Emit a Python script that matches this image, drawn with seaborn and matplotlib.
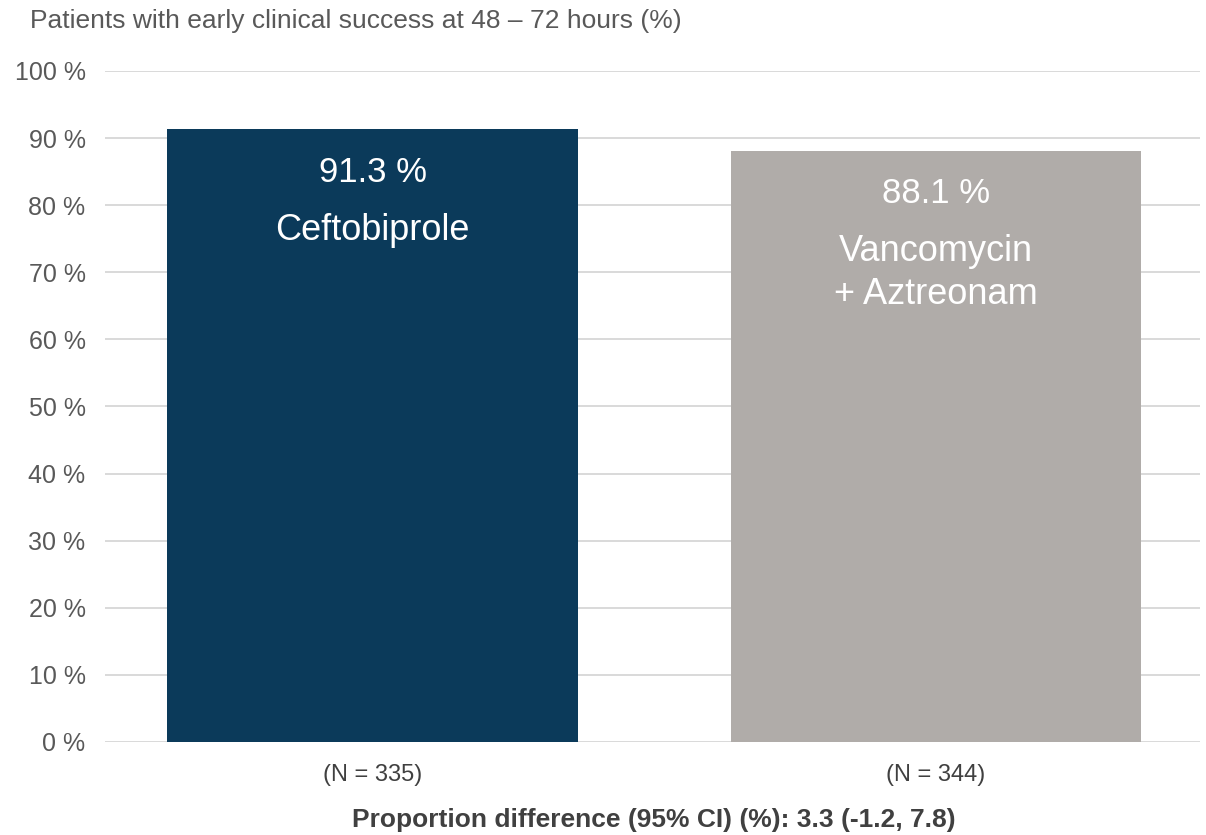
import pandas as pd
from matplotlib import pyplot as plt
import seaborn as sns

# chart data
arms = ['Ceftobiprole', 'Vancomycin\n+ Aztreonam']
success_pct = [91.3, 88.1]
n_labels = ['(N = 335)', '(N = 344)']
bar_colors = ['#0b3a5a', '#b0aca9']
y_ticks = list(range(0, 101, 10))
y_tick_labels = [f'{t} %' for t in y_ticks]

data = pd.DataFrame({'arm': arms, 'pct': success_pct})

sns.set_style('white')
plt.rcParams['font.family'] = ['Liberation Sans', 'DejaVu Sans']

fig = plt.figure(figsize=(12.06, 8.35), dpi=100)
ax = fig.add_axes([0.0871, 0.1114, 0.9079, 0.8036])

sns.barplot(data=data, x='arm', y='pct', hue='arm', palette=bar_colors,
            legend=False, width=0.729, saturation=1, linewidth=0,
            ax=ax, zorder=3)

ax.set_ylim(0, 100)
ax.set_xlim(-0.4747, 1.4685)
ax.set_yticks(y_ticks)
ax.set_yticklabels(y_tick_labels)
ax.set_xticks(range(len(arms)))
ax.set_xticklabels(n_labels)
ax.tick_params(axis='y', length=0, pad=14, labelsize=18, labelcolor='#595959')
ax.tick_params(axis='x', length=0, pad=16, labelsize=17, labelcolor='#404040')
ax.set_xlabel('')
ax.set_ylabel('')

ax.grid(axis='y', color='#d9d9d9', linewidth=1.4, zorder=0)
ax.set_axisbelow(True)
for s in ax.spines.values():
    s.set_visible(False)

# labels inside the bars
for i, (name, v) in enumerate(zip(arms, success_pct)):
    ax.text(i, v - 7.8, f'{v} %', ha='center', va='baseline',
            color='white', fontsize=25, zorder=4)
    ax.text(i, v - 12.4, name, ha='center', va='top', color='white',
            fontsize=26, linespacing=1.3, zorder=4)

fig.text(0.025, 0.975, 'Patients with early clinical success at 48 \u2013 72 hours (%)',
         ha='left', va='center', fontsize=19, color='#595959')
fig.text(0.542, 0.018, 'Proportion difference (95% CI) (%): 3.3 (-1.2, 7.8)',
         ha='center', va='center', fontsize=19, fontweight='bold', color='#404040')

fig.savefig('out.png', dpi=100)
